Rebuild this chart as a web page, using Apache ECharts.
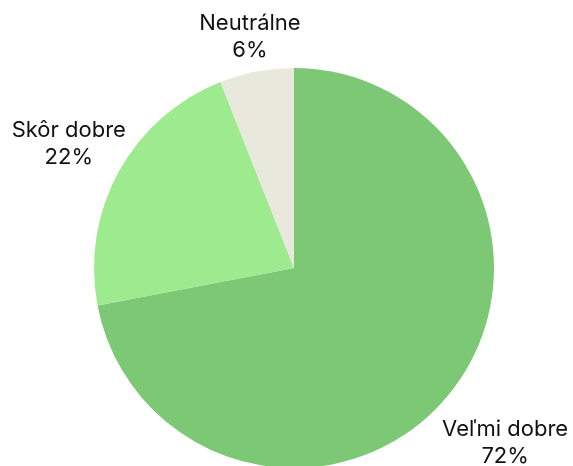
<!DOCTYPE html>
<html>
<head>
<meta charset="utf-8">
<script src="https://cdn.jsdelivr.net/npm/echarts@6/dist/echarts.min.js"></script>
<style>
  html, body { margin: 0; padding: 0; background: #fff; }
  #chart { width: 573px; height: 466px; }
</style>
</head>
<body>
<div id="chart"></div>
<script>
// data
const categories = ["Veľmi dobre", "Skôr dobre", "Neutrálne"];
const values = [72, 22, 6];
const colors = ["#7dc874", "#9dea8f", "#e8e9dc"];

// how far each label sits from the centre (px)
const labelDist = [274, 257, 235];

const cx = 294;
const cy = 268;
const total = values.reduce((a, b) => a + b, 0);

const chart = echarts.init(document.getElementById("chart"));

const option = {
  backgroundColor: "#ffffff",
  animation: false,
  series: [
    {
      type: "pie",
      center: [cx, cy],
      radius: 200,
      startAngle: 90,
      clockwise: true,
      data: categories.map((name, i) => ({
        name: name,
        value: values[i],
        itemStyle: { color: colors[i] },
      })),
      label: {
        show: true,
        position: "outside",
        alignTo: "none",
        overflow: "none",
        edgeDistance: 0,
        bleedMargin: 0,
        formatter: "{b}\n{d}%",
        fontFamily: "Inter",
        fontSize: 22,
        lineHeight: 27,
        color: "#111",
      },
      labelLine: { show: false },
      labelLayout: function (params) {
        const i = params.dataIndex;
        let before = 0;
        for (let k = 0; k < i; k++) before += values[k];
        const mid = ((before + values[i] / 2) / total) * Math.PI * 2;
        return {
          x: cx + Math.sin(mid) * labelDist[i],
          y: cy - Math.cos(mid) * labelDist[i],
          align: "center",
          verticalAlign: "middle",
        };
      },
      emphasis: { disabled: true },
    },
  ],
};

chart.setOption(option);
</script>
</body>
</html>
